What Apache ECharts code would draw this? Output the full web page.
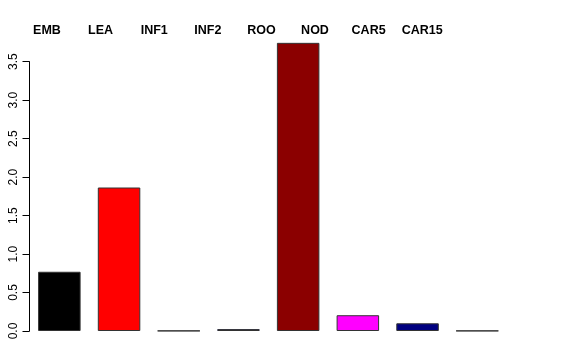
<!DOCTYPE html>
<html><head><meta charset="utf-8">
<script src="https://cdn.jsdelivr.net/npm/echarts@6/dist/echarts.min.js"></script>
<style>html,body{margin:0;padding:0;background:#fff}#c{width:576px;height:360px}</style>
</head><body><div id="c"></div>
<script>
var categories = ['EMB','LEA','INF1','INF2','ROO','NOD','CAR5','CAR15'];
var values = [0.77, 1.865, 0.003, 0.025, 3.745, 0.205, 0.10, 0.003];
var colors = ['#000000','#FF0000','#00CD00','#0000FF','#8B0000','#FF00FF','#000080','#A0A0A0'];
var yTicks = [0, 0.5, 1, 1.5, 2, 2.5, 3, 3.5];

var chart = echarts.init(document.getElementById('c'), null, {renderer:'canvas'});
var font = 'Liberation Sans, Arial, Helvetica, sans-serif';
chart.setOption({
  animation: false,
  grid: [
    {left: 29.5, width: 477.6, top: 61.7, bottom: 29, containLabel: false},
    {left: 20.2, width: 428.8, top: 41, height: 1, containLabel: false}
  ],
  xAxis: [
    {type:'category', gridIndex:0, data: categories, show:false, boundaryGap:true},
    {type:'category', gridIndex:1, data: categories, position:'top',
     axisLine:{show:false}, axisTick:{show:false},
     axisLabel:{show:true, interval:0, fontFamily:font, fontSize:12.5, fontWeight:'bold', color:'#000', margin:4}}
  ],
  yAxis: [
    {type:'value', gridIndex:0, min:0, max:3.5, interval:0.5,
     axisLine:{show:true, lineStyle:{color:'#000', width:1}},
     axisTick:{show:true, length:7, lineStyle:{color:'#000'}},
     splitLine:{show:false},
     axisLabel:{rotate:90, fontFamily:font, fontSize:12, color:'#000', margin:10,
       formatter:function(v){return v.toFixed(1);}}},
    {type:'value', gridIndex:1, show:false}
  ],
  series: [{
    type:'bar', xAxisIndex:0, yAxisIndex:0, clip:false, barWidth:42.5,
    data: values.map(function(v,i){return {value:v, itemStyle:{color:colors[i]}};}),
    itemStyle:{borderColor:'#333', borderWidth:1}
  }]
});
</script></body></html>
